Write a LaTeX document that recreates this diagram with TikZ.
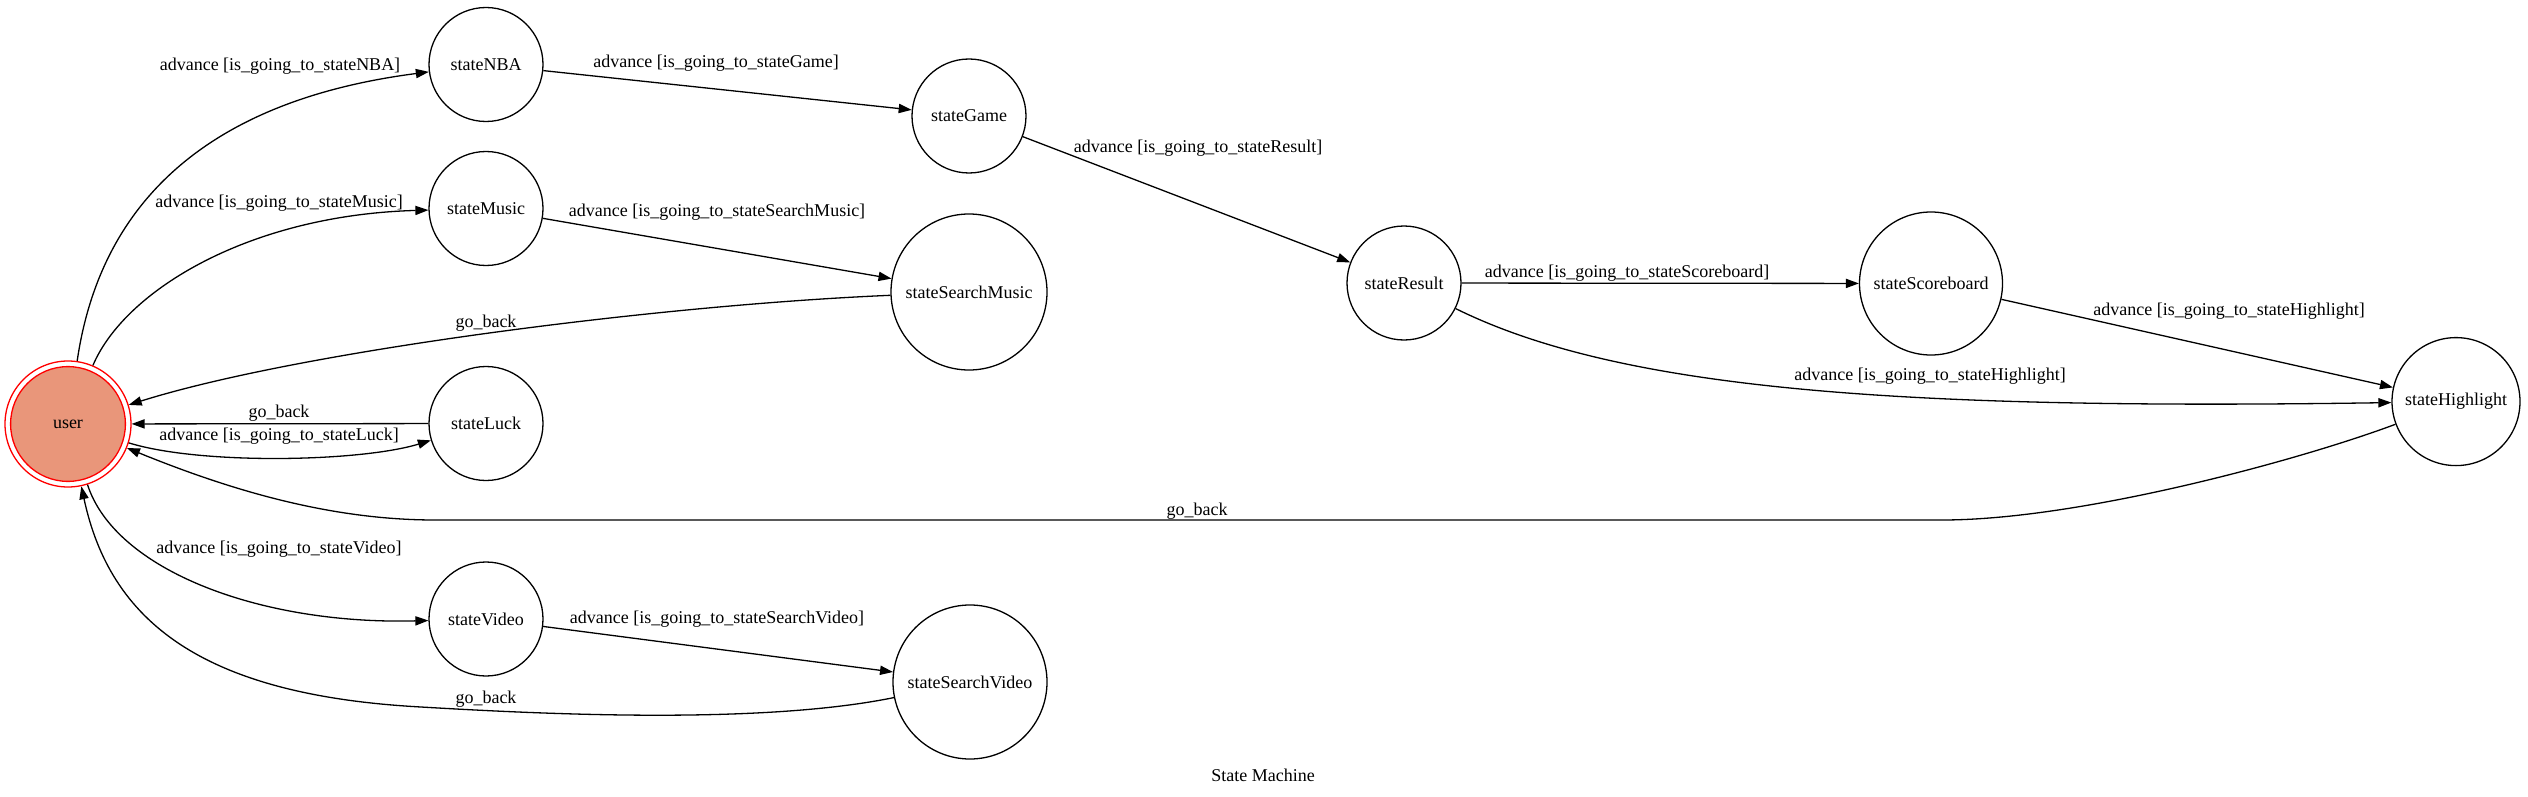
\documentclass[tikz,border=0pt]{standalone}
\usepackage{fontspec}
\setmainfont{Liberation Serif}
\usetikzlibrary{arrows.meta}
\definecolor{dsalmon}{HTML}{E9967A}
\tikzset{
  st/.style={circle,draw=black,line width=0.65pt,inner sep=0pt,font=\fontsize{9pt}{10pt}\selectfont},
  smallst/.style={st,minimum size=57pt},
  lbl/.style={inner sep=0pt,font=\fontsize{9pt}{10pt}\selectfont},
  edge/.style={draw=black,line width=0.65pt,-{Triangle[length=6.5pt,width=4.6pt]}},
}
\begin{document}
\begin{tikzpicture}[x=0.5pt,y=-0.5pt]
\useasboundingbox (0,0) rectangle (2528,797);
% nodes
\node[st,draw=red,minimum size=63pt,
  path picture={\draw[red,line width=0.65pt,fill=dsalmon] (path picture bounding box.center) circle (28.7pt);}]
  (user) at (68,424) {user};
\node[smallst] (NBA) at (486,64.5) {stateNBA};
\node[smallst] (Music) at (486,208.5) {stateMusic};
\node[smallst] (Luck) at (486,423.5) {stateLuck};
\node[smallst] (Video) at (486,619) {stateVideo};
\node[smallst] (Game) at (969,116) {stateGame};
\node[st,minimum size=78pt] (SMusic) at (969,292) {stateSearchMusic};
\node[st,minimum size=77pt] (SVideo) at (970,682) {stateSearchVideo};
\node[smallst] (Result) at (1404,283) {stateResult};
\node[st,minimum size=71.5pt] (Score) at (1931,283.5) {stateScoreboard};
\node[st,minimum size=64pt] (High) at (2456,401.6) {stateHighlight};
\node[lbl] (title) at (1263,775) {State Machine};
% edges
\draw[edge] (user) .. controls (105,170) and (250,95) .. (NBA);
\draw[edge] (user) .. controls (125,290) and (250,215) .. (Music);
\draw[edge] (NBA) -- (Game);
\draw[edge] (Music) -- (SMusic);
\draw[edge] (SMusic) .. controls (660,305) and (300,351) .. (user);
\draw[edge] (Luck) -- (user);
\draw[edge] (user) .. controls (200,465) and (360,462) .. (Luck);
\coordinate (hb1) at (1942,520);
\coordinate (hb2) at (435,520);
\draw[edge] (High) .. controls (2300,460) and (2080,520) .. (hb1) -- (hb2) .. controls (330,520) and (230,490) .. (user);
\draw[edge] (user) .. controls (115,570) and (260,625) .. (Video);
\coordinate (sv1) at (421,707);
\draw[edge] (SVideo) .. controls (760,725) and (540,714) .. (sv1) .. controls (200,695) and (110,620) .. (user);
\draw[edge] (Video) -- (SVideo);
\draw[edge] (Game) -- (Result);
\draw[edge] (Result) -- (Score);
\draw[edge] (Score) -- (High);
\draw[edge] (Result) .. controls (1620,390) and (1900,410) .. (High);
% labels
\node[lbl] (l1) at (280,66) {advance [is\_going\_to\_stateNBA]};
\node[lbl] (l2) at (716,63) {advance [is\_going\_to\_stateGame]};
\node[lbl] (l3) at (279,203) {advance [is\_going\_to\_stateMusic]};
\node[lbl] (l4) at (717,212) {advance [is\_going\_to\_stateSearchMusic]};
\node[lbl] (l5) at (486,323) {go\_back};
\node[lbl] (l6) at (279,413) {go\_back};
\node[lbl] (l7) at (279,436) {advance [is\_going\_to\_stateLuck]};
\node[lbl] (l8) at (279,549) {advance [is\_going\_to\_stateVideo]};
\node[lbl] (l9) at (717,619) {advance [is\_going\_to\_stateSearchVideo]};
\node[lbl] (l10) at (486,699) {go\_back};
\node[lbl] (l11) at (1198,148) {advance [is\_going\_to\_stateResult]};
\node[lbl] (l12) at (1627,273) {advance [is\_going\_to\_stateScoreboard]};
\node[lbl] (l13) at (2229,311) {advance [is\_going\_to\_stateHighlight]};
\node[lbl] (l14) at (1930,376) {advance [is\_going\_to\_stateHighlight]};
\node[lbl] (l15) at (1197,511) {go\_back};
\end{tikzpicture}
\end{document}
